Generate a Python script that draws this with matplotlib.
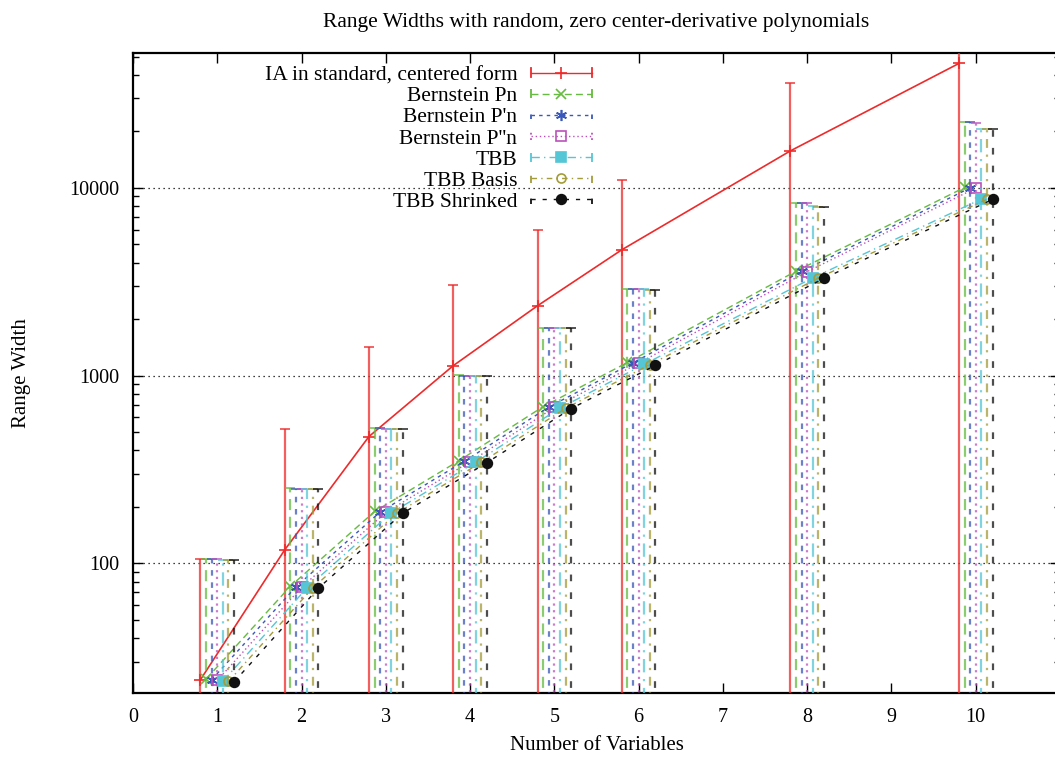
import numpy as np
import matplotlib
matplotlib.use('Agg')
import matplotlib.pyplot as plt
from matplotlib.lines import Line2D
from matplotlib.legend_handler import HandlerBase
from matplotlib.ticker import LogLocator, NullFormatter, FuncFormatter, FixedLocator

# ---------------- data ----------------
n_vars = [1, 2, 3, 4, 5, 6, 8, 10]

series_labels = ["IA in standard, centered form", "Bernstein Pn", "Bernstein P'n",
                 "Bernstein P''n", "TBB", "TBB Basis", "TBB Shrinked"]

ia_width     = [24, 118, 474, 1130, 2356, 4680, 15740, 46000]
ia_upper     = [105, 522, 1426, 3050, 6000, 11030, 36300, 110000]
pn_width     = [24.2, 75.5, 189, 352, 684, 1175, 3600, 10050]
pn_upper     = [105, 251, 526, 1003, 1800, 2900, 8300, 22400]
p1n_width    = [24.0, 75.0, 188, 350, 680, 1170, 3590, 10000]
p1n_upper    = [105, 250, 524, 1000, 1798, 2895, 8290, 22350]
p2n_width    = [23.8, 74.6, 187, 348, 677, 1165, 3580, 9980]
p2n_upper    = [105, 250, 522, 1000, 1795, 2890, 8280, 22300]
tbb_width    = [23.6, 74.2, 186, 346, 672, 1150, 3320, 8720]
tbb_upper    = [104.5, 249, 521, 998, 1790, 2880, 7960, 20600]
basis_width  = [23.5, 74.0, 185.5, 345, 670, 1145, 3310, 8700]
basis_upper  = [104.2, 248.5, 520.5, 997, 1788, 2875, 7955, 20580]
shr_width    = [23.4, 73.8, 185, 344, 668, 1135, 3300, 8680]
shr_upper    = [104, 248, 520, 995, 1785, 2870, 7950, 20550]
lower_bound  = [1, 1, 1, 1, 1, 1, 1, 1]   # below the visible axis range

widths = [ia_width, pn_width, p1n_width, p2n_width, tbb_width, basis_width, shr_width]
uppers = [ia_upper, pn_upper, p1n_upper, p2n_upper, tbb_upper, basis_upper, shr_upper]

# ---------------- styles ----------------
colors = ['#ee2a2a', '#66bb40', '#3a58b8', '#bb50bb', '#55c6d6', '#a39c3a', '#111111']
dashes = ['-', (0, (5, 3)), (0, (2.5, 3)), (0, (1, 2)), (0, (6, 3, 1, 3)),
          (0, (4, 3, 1, 3)), (0, (3, 5))]
markers = ['+', 'x', (6, 2, 0), 's', 's', 'o', 'o']
mfcs = [None, None, None, 'none', '#55c6d6', 'none', '#111111']
msizes = [9, 7, 8, 6.5, 6.5, 6.5, 7]
offsets = [-0.2, -0.133, -0.067, 0.0, 0.067, 0.133, 0.2]

plt.rcParams['font.family'] = ['Liberation Serif', 'DejaVu Serif']
plt.rcParams['font.size'] = 15

fig = plt.figure(figsize=(10.55, 7.58), dpi=100)
W, H = 1055.0, 758.0
ax = fig.add_axes([133 / W, (H - 693) / H, 927 / W, 640 / H])

x_arr = np.array(n_vars, dtype=float)


class Key:
    def __init__(self, color, ls, marker, ms, mfc):
        self.color, self.ls, self.marker, self.ms, self.mfc = color, ls, marker, ms, mfc


class GnuErrHandler(HandlerBase):
    def create_artists(self, legend, h, xdescent, ydescent, width, height, fontsize, trans):
        y = height / 2.0 - ydescent
        x0 = -xdescent
        x1 = x0 + width
        line = Line2D([x0, x1], [y, y], color=h.color, linestyle=h.ls, lw=1.0)
        t = height * 0.3
        c1 = Line2D([x0, x0], [y - t, y + t], color=h.color, linestyle=h.ls, lw=1.3)
        c2 = Line2D([x1, x1], [y - t, y + t], color=h.color, linestyle=h.ls, lw=1.3)
        kw = {}
        if h.mfc is not None:
            kw['markerfacecolor'] = h.mfc
        mk = Line2D([(x0 + x1) / 2], [y], color=h.color, marker=h.marker,
                    markersize=h.ms, linestyle='none', markeredgewidth=1.2, **kw)
        for a in (line, c1, c2, mk):
            a.set_transform(trans)
        return [line, c1, c2, mk]


keys = []
for i in range(7):
    xs = x_arr + offsets[i]
    y = np.array(widths[i])
    up = np.array(uppers[i])
    lo = np.array(lower_bound, dtype=float)
    kw = {}
    if mfcs[i] is not None:
        kw['markerfacecolor'] = mfcs[i]
    lw = 1.2 if i == 0 else 1.0
    cont = ax.errorbar(xs, y, yerr=[y - lo, up - y], color=colors[i], linestyle=dashes[i],
                       lw=lw, marker=markers[i], markersize=msizes[i], markeredgewidth=1.2,
                       ecolor=colors[i], elinewidth=1.6, capsize=3.5, capthick=1.2,
                       zorder=3 + i, **kw)
    for lc in cont[2]:
        lc.set_linestyle(dashes[i])
        lc.set_alpha(0.75)
    for cl in cont[1]:
        cl.set_alpha(0.85)
    keys.append(Key(colors[i], dashes[i], markers[i], msizes[i], mfcs[i]))

ax.set_yscale('log')
ax.set_xlim(0, 11)
ax.set_ylim(20.4, 52300)

ax.set_xticks(range(0, 11))
ax.yaxis.set_major_locator(FixedLocator([100, 1000, 10000]))
ax.yaxis.set_major_formatter(FuncFormatter(lambda v, p: '%d' % round(v)))
ax.yaxis.set_minor_locator(LogLocator(base=10, subs=np.arange(2, 10), numticks=20))
ax.yaxis.set_minor_formatter(NullFormatter())

ax.tick_params(which='both', direction='in', top=True, right=True, colors='black')
ax.tick_params(which='major', length=7, width=1.0, labelsize=14.5)
ax.tick_params(which='minor', length=4, width=1.0)
ax.tick_params(axis='x', pad=11)
ax.tick_params(axis='y', pad=10)

for sp in ax.spines.values():
    sp.set_linewidth(1.6)

ax.grid(True, axis='y', which='major', color='black', linestyle=(0, (1, 3)), lw=0.9)
ax.set_axisbelow(True)

ax.set_title('Range Widths with random, zero center-derivative polynomials',
             fontsize=15.5, pad=19)
ax.set_xlabel('Number of Variables', fontsize=15, labelpad=6)
ax.set_ylabel('Range Width', fontsize=15, labelpad=27)

leg = ax.legend(keys, series_labels, handler_map={Key: GnuErrHandler()},
                loc='upper right', bbox_to_anchor=((592 - 133) / 927, (693 - 65) / 640),
                frameon=False, markerfirst=False, borderpad=0, borderaxespad=0,
                handlelength=2.85, handletextpad=0.62, labelspacing=0.05, fontsize=15.5)
leg.set_zorder(20)

fig.savefig('out.png', dpi=100)
